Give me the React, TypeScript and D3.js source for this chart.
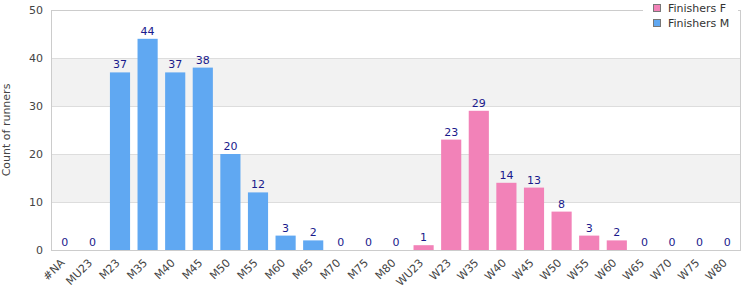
import * as d3 from 'd3';
import React, { useEffect, useRef } from 'react';

const categories = [
  '#NA', 'MU23', 'M23', 'M35', 'M40', 'M45', 'M50', 'M55', 'M60', 'M65', 'M70', 'M75', 'M80',
  'WU23', 'W23', 'W35', 'W40', 'W45', 'W50', 'W55', 'W60', 'W65', 'W70', 'W75', 'W80',
];
const finishersM = [0, 0, 37, 44, 37, 38, 20, 12, 3, 2, 0, 0, 0, 0, 0, 0, 0, 0, 0, 0, 0, 0, 0, 0, 0];
const finishersF = [0, 0, 0, 0, 0, 0, 0, 0, 0, 0, 0, 0, 0, 1, 23, 29, 14, 13, 8, 3, 2, 0, 0, 0, 0];
const yTicks = [0, 10, 20, 30, 40, 50];

const colorM = '#60a8f2';
const colorF = '#f282b8';

const App: React.FC = () => {
  const ref = useRef<SVGSVGElement | null>(null);

  useEffect(() => {
    const width = 750;
    const height = 300;
    const margin = { top: 10, right: 9, bottom: 50, left: 51 };
    const font = '"DejaVu Sans", Verdana, sans-serif';

    const svg = d3.select(ref.current);
    svg.selectAll('*').remove();

    const x = d3
      .scaleBand()
      .domain(categories)
      .range([margin.left, width - margin.right])
      .paddingInner(0.27)
      .paddingOuter(0.135);
    const y = d3.scaleLinear().domain([0, 50]).range([height - margin.bottom, margin.top]);

    // alternating bands
    for (let i = 0; i < yTicks.length - 1; i++) {
      if (i % 2 === 1) {
        svg
          .append('rect')
          .attr('x', margin.left)
          .attr('y', y(yTicks[i + 1]))
          .attr('width', width - margin.right - margin.left)
          .attr('height', y(yTicks[i]) - y(yTicks[i + 1]))
          .attr('fill', '#f2f2f2');
      }
    }

    // grid lines
    yTicks.forEach(t => {
      svg
        .append('line')
        .attr('x1', margin.left)
        .attr('x2', width - margin.right)
        .attr('y1', y(t) + 0.5)
        .attr('y2', y(t) + 0.5)
        .attr('stroke', '#ddd');
      svg
        .append('text')
        .attr('x', margin.left - 8)
        .attr('y', y(t))
        .attr('text-anchor', 'end')
        .attr('dominant-baseline', 'central')
        .attr('font-family', font)
        .attr('font-size', '11px')
        .attr('fill', '#444')
        .text(t);
    });

    // border
    svg
      .append('rect')
      .attr('x', margin.left + 0.5)
      .attr('y', margin.top + 0.5)
      .attr('width', width - margin.right - margin.left - 1)
      .attr('height', height - margin.bottom - margin.top)
      .attr('fill', 'none')
      .attr('stroke', '#ccc');

    // stacked bars
    const rows = categories.map((c, i) => ({ cat: c, M: finishersM[i], F: finishersF[i] }));
    const stack = d3.stack<{ cat: string; M: number; F: number }>().keys(['M', 'F'])(rows);
    const colors: Record<string, string> = { M: colorM, F: colorF };

    stack.forEach(layer => {
      svg
        .append('g')
        .selectAll('rect')
        .data(layer)
        .join('rect')
        .attr('x', d => x(d.data.cat) as number)
        .attr('y', d => y(d[1]))
        .attr('width', x.bandwidth())
        .attr('height', d => y(d[0]) - y(d[1]))
        .attr('fill', colors[layer.key]);
    });

    // value labels
    svg
      .append('g')
      .selectAll('text')
      .data(rows)
      .join('text')
      .attr('x', d => (x(d.cat) as number) + x.bandwidth() / 2)
      .attr('y', d => y(d.M + d.F) - 4)
      .attr('text-anchor', 'middle')
      .attr('font-family', font)
      .attr('font-size', '11px')
      .attr('fill', '#1a1a8c')
      .text(d => d.M + d.F);

    // x labels
    svg
      .append('g')
      .selectAll('text')
      .data(categories)
      .join('text')
      .attr('transform', d => {
        const cx = (x(d) as number) + x.bandwidth() / 2 - 2;
        return `translate(${cx},${height - margin.bottom + 11}) rotate(-45)`;
      })
      .attr('text-anchor', 'end')
      .attr('dominant-baseline', 'central')
      .attr('font-family', font)
      .attr('font-size', '11px')
      .attr('fill', '#444')
      .text(d => d);

    // y axis title
    svg
      .append('text')
      .attr('transform', `translate(6,${(margin.top + height - margin.bottom) / 2}) rotate(-90)`)
      .attr('text-anchor', 'middle')
      .attr('dominant-baseline', 'central')
      .attr('font-family', font)
      .attr('font-size', '11px')
      .attr('fill', '#444')
      .text('Count of runners');

    // legend
    const legend = svg.append('g');
    legend.append('rect').attr('x', 643).attr('y', 0).attr('width', 95).attr('height', 33).attr('fill', '#fff');
    const items = [
      { label: 'Finishers F', color: colorF },
      { label: 'Finishers M', color: colorM },
    ];
    items.forEach((it, i) => {
      const cy = 8 + i * 15;
      legend
        .append('rect')
        .attr('x', 653.5)
        .attr('y', cy - 3.5)
        .attr('width', 7)
        .attr('height', 7)
        .attr('fill', it.color)
        .attr('stroke', '#777');
      legend
        .append('text')
        .attr('x', 668)
        .attr('y', cy)
        .attr('dominant-baseline', 'central')
        .attr('font-family', font)
        .attr('font-size', '11px')
        .attr('fill', '#333')
        .text(it.label);
    });
  }, []);

  return (
    <svg
      ref={ref}
      width={750}
      height={300}
      style={{ position: 'absolute', left: 0, top: 0, background: '#fff' }}
    />
  );
};

export default App;
